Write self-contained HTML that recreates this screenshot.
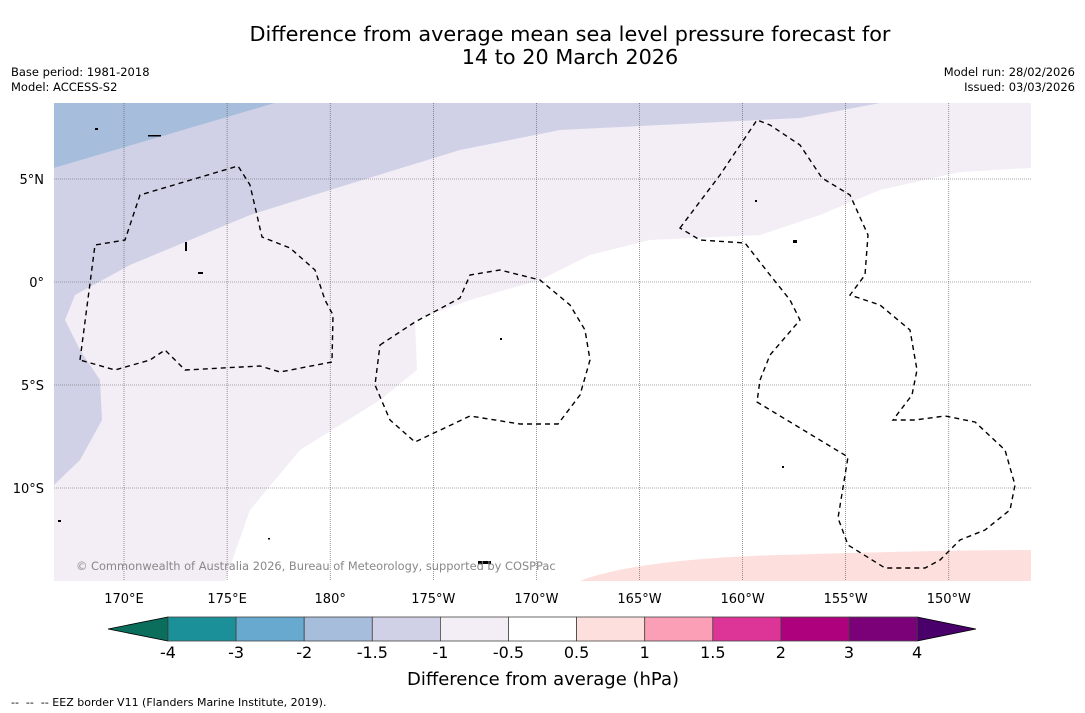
<!DOCTYPE html>
<html><head><meta charset="utf-8"><style>
body{margin:0;background:#fff;width:1085px;height:713px;overflow:hidden;font-family:"Liberation Sans","DejaVu Sans",sans-serif}
svg{position:absolute;left:0;top:0}
</style></head><body>
<svg width="1085" height="713" font-family="DejaVu Sans, Liberation Sans, sans-serif">
<text x="570" y="41" text-anchor="middle" font-size="20.8">Difference from average mean sea level pressure forecast for</text>
<text x="570" y="64" text-anchor="middle" font-size="20.8">14 to 20 March 2026</text>
<text x="11" y="76" font-size="11.5">Base period: 1981-2018</text>
<text x="11" y="91" font-size="11.5">Model: ACCESS-S2</text>
<text x="1075" y="76" font-size="11.5" text-anchor="end">Model run: 28/02/2026</text>
<text x="1075" y="91" font-size="11.5" text-anchor="end">Issued: 03/03/2026</text>
<g id="map">
<defs><clipPath id="mc"><rect x="54" y="103" width="977" height="478"/></clipPath></defs>
<g clip-path="url(#mc)">
<rect x="54" y="103" width="977" height="478" fill="#f3eef6"/>
<polygon fill="#ffffff" points="1031,168 960,172 880,190 820,215 760,235 650,240 590,255 540,280 470,300 415,320 417,370 380,400 300,450 250,510 225,581 1031,581"/>
<polygon fill="#d0d1e6" points="54,168 275,103 880,103 800,118 560,130 460,150 330,190 250,215 190,240 130,265 75,295 65,320 80,350 100,380 102,420 80,460 54,485"/>
<polygon fill="#a6bddb" points="54,103 275,103 54,168"/>
<path fill="#fde0dd" d="M580,581 C620,565 700,557 780,555 C880,552 960,550 1031,550 L1031,581 Z"/>
<g id="grid" stroke="#555" stroke-width="0.6" stroke-dasharray="1,1"></g>
<g fill="none" stroke="#000" stroke-width="1.4" stroke-dasharray="5,4">
<polygon points="80,360 95,245 125,240 140,195 238,166 250,185 262,237 290,248 315,270 325,300 333,315 332,362 280,372 260,366 185,370 165,350 150,360 115,370"/>
<polygon points="380,345 415,322 460,298 470,275 500,270 540,280 570,305 585,330 590,360 580,395 558,424 520,424 470,416 415,442 390,420 375,385"/>
<polygon points="680,228 720,175 757,120 770,125 800,145 822,178 850,195 868,235 865,275 850,295 880,305 910,330 917,370 912,395 893,420 915,420 945,416 975,422 1005,450 1015,485 1010,510 985,530 960,540 940,560 925,568 885,568 848,545 838,518 848,457 757,402 760,380 770,355 800,320 790,300 770,275 745,243 700,240"/>
</g>
<g fill="#000">
<rect x="148" y="135" width="13" height="1.5"/><rect x="95" y="128" width="3" height="2"/><rect x="185" y="242" width="2" height="9"/><rect x="198" y="272" width="5" height="2"/><rect x="500" y="338" width="2" height="2"/><rect x="755" y="200" width="2" height="2"/><rect x="793" y="240" width="4" height="3"/><rect x="782" y="466" width="2" height="2"/><rect x="478" y="561" width="13" height="3"/><rect x="58" y="520" width="3" height="2"/><rect x="268" y="538" width="2" height="1.5"/>
</g>
</g>
<text x="76" y="570" font-size="11.4" fill="#888">© Commonwealth of Australia 2026, Bureau of Meteorology, supported by COSPPac</text>
<g id="axlabels" font-size="13"></g>
</g>
<g id="cbar"></g>
<text x="543" y="685" text-anchor="middle" font-size="18">Difference from average (hPa)</text>
<text x="11" y="706" font-size="11" xml:space="preserve" style="white-space:pre">--  --  -- EEZ border V11 (Flanders Marine Institute, 2019).</text>
</svg>
<script>
const lonTicks=["170°E","175°E","180°","175°W","170°W","165°W","160°W","155°W","150°W"];
const lonVals=[170,175,180,185,190,195,200,205,210];
const latTicks=["5°N","0°","5°S","10°S"];
const latVals=[5,0,-5,-10];
const levels=["-4","-3","-2","-1.5","-1","-0.5","0.5","1","1.5","2","3","4"];
const colors=["#1b9098","#67a9cf","#a6bddb","#d0d1e6","#f3eef6","#ffffff","#fde0dd","#fa9fb5","#dd3497","#ae017e","#7a0177"];
const NS="http://www.w3.org/2000/svg";
const xLon=l=>124+(l-170)*20.62;
const yLat=l=>282-l*20.6;
const g=document.getElementById('grid'),ax=document.getElementById('axlabels');
function mk(t,a,p){const e=document.createElementNS(NS,t);for(const k in a)e.setAttribute(k,a[k]);p.appendChild(e);return e;}
lonVals.forEach((v,i)=>{const x=xLon(v);
 const l=mk('line',{x1:x,x2:x,y1:103,y2:581},g);
 
 
 const t=mk('text',{x:x,y:603,'text-anchor':'middle'},ax);t.textContent=lonTicks[i];
 
 });
latVals.forEach((v,i)=>{const y=yLat(v);
 const l=mk('line',{x1:54,x2:1031,y1:y,y2:y},g);
 
 
 const t=mk('text',{x:44,y:y+5,'text-anchor':'end'},ax);t.textContent=latTicks[i];
 
 });
const cb=document.getElementById('cbar');const x0=168,w=68.1,y0=617,h=24;
const la=mk('polygon',{points:`108,629 ${x0},${y0} ${x0},${y0+h}`,fill:'#0b6e5c',stroke:'#000','stroke-width':0.8},cb);


const xe=x0+w*colors.length;
const ra=mk('polygon',{points:`${xe},${y0} 976,629 ${xe},${y0+h}`,fill:'#49006a',stroke:'#000','stroke-width':0.8},cb);


colors.forEach((c,i)=>{const r=mk('rect',{x:x0+i*w,y:y0,width:w,height:h,fill:c,stroke:'#444','stroke-width':0.8},cb);
 
 });
levels.forEach((s,i)=>{const t=mk('text',{x:x0+i*w,y:658,'text-anchor':'middle','font-size':16},cb);t.textContent=s;
 
 });
</script>
</body></html>
